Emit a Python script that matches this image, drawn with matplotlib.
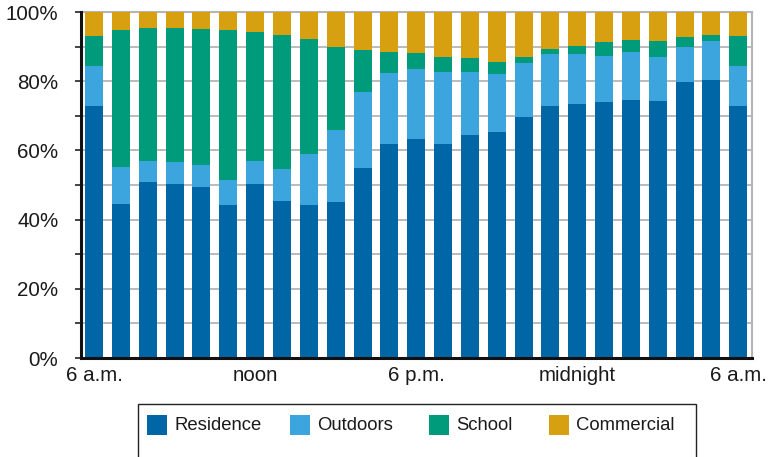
import matplotlib
matplotlib.use("Agg")
import matplotlib.pyplot as plt
from matplotlib.patches import Rectangle
import numpy as np

plt.rcParams['font.family'] = ['Liberation Sans', 'DejaVu Sans']

# Hourly share of population by location, 6 a.m. to 6 a.m. (percent)
hours = list(range(25))
residence = [72.8, 44.5, 50.8, 50.2, 49.4, 44.2, 50.2, 45.3, 44.2, 45.0, 54.9, 61.8, 63.3,
             61.8, 64.4, 65.3, 69.6, 72.8, 73.4, 74.0, 74.5, 74.3, 79.7, 80.3, 72.8]
outdoors = [11.6, 10.7, 6.1, 6.4, 6.4, 7.2, 6.7, 9.3, 14.7, 20.9, 22.0, 20.6, 20.2,
            20.8, 18.2, 16.8, 15.6, 15.0, 14.4, 13.3, 13.9, 12.7, 10.2, 11.3, 11.6]
school = [8.8, 39.6, 38.5, 38.8, 39.3, 43.4, 37.3, 38.7, 33.3, 24.0, 12.1, 6.0, 4.6,
          4.4, 4.1, 3.4, 1.8, 1.5, 2.4, 4.0, 3.5, 4.6, 2.9, 1.7, 8.7]
commercial = [100 - r - o - s for r, o, s in zip(residence, outdoors, school)]

series = [("Residence", residence, "#0066a6"),
          ("Outdoors", outdoors, "#3ca5dd"),
          ("School", school, "#009b7a"),
          ("Commercial", commercial, "#d6a010")]

tick_positions = [0, 6, 12, 18, 24]
tick_labels = ["6 a.m.", "noon", "6 p.m.", "midnight", "6 a.m."]
y_ticks = [0, 20, 40, 60, 80, 100]

W, H = 776, 457
fig = plt.figure(figsize=(W / 100, H / 100), dpi=100)
ax = fig.add_axes([80.7 / W, 1 - 358 / H, (751.7 - 80.7) / W, (358 - 12) / H])

bottom = np.zeros(len(hours))
for name, vals, color in series:
    ax.bar(hours, vals, bottom=bottom, width=0.67, color=color, label=name, zorder=3)
    bottom += np.array(vals)

ax.set_xlim(-0.5, 24.5)
ax.set_ylim(0, 100)
ax.set_yticks(y_ticks)
ax.set_yticklabels([f"{v}%" for v in y_ticks])
ax.set_yticks(np.arange(0, 101, 10), minor=True)
ax.set_xticks(tick_positions)
ax.set_xticklabels(tick_labels)
ax.tick_params(axis='x', length=0, pad=6, labelsize=14.8, colors='#1a1a1a')
ax.tick_params(axis='y', which='both', length=4, width=1.2, direction='out',
               labelsize=14.8, pad=12, colors='#1a1a1a')
ax.tick_params(axis='y', which='both', color='#222222')
ax.grid(axis='y', which='both', color='#b5b5b5', linewidth=1.3, zorder=0)
ax.set_axisbelow(True)

for side in ('left', 'bottom'):
    ax.spines[side].set_color('#111111')
    ax.spines[side].set_linewidth(2.2)
    ax.spines[side].set_zorder(5)
for side in ('top', 'right'):
    ax.spines[side].set_color('#b5b5b5')
    ax.spines[side].set_linewidth(1.5)

# Legend drawn in pixel coordinates inside an open-bottomed box
box = Rectangle((138 / W, -0.05), (696 - 138) / W, 0.05 + 1 - 404 / H,
                transform=fig.transFigure, fill=False, edgecolor='#222222',
                linewidth=1.0, clip_on=False)
fig.add_artist(box)
square_x = [147, 290, 429, 549]
for (name, _, color), sx in zip(series, square_x):
    fig.add_artist(Rectangle((sx / W, 1 - 435 / H), 20 / W, 20 / H,
                             transform=fig.transFigure, facecolor=color,
                             edgecolor='none'))
    fig.text((sx + 27) / W, 1 - 425 / H, name, fontsize=13.3, color='#1a1a1a',
             ha='left', va='center')

fig.savefig("out.png", dpi=100)
